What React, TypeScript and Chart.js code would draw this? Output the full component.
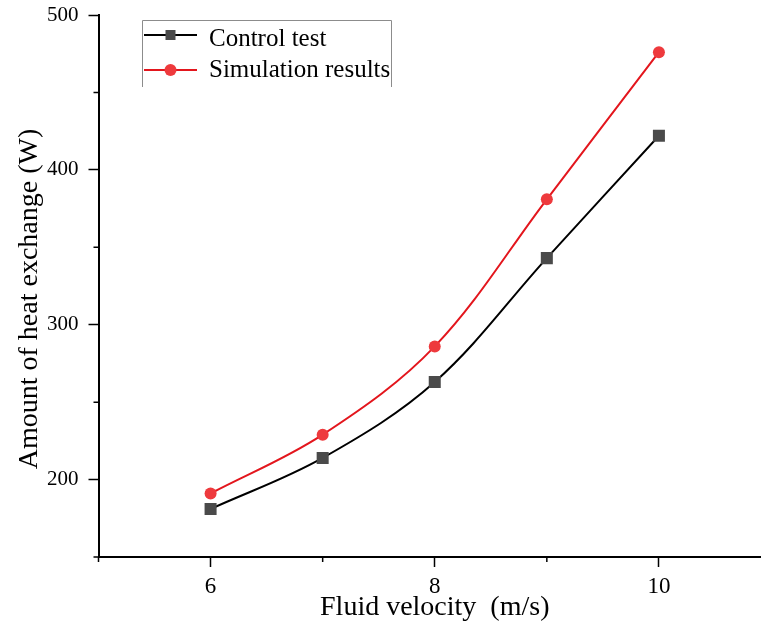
import { useEffect, useRef } from 'react';
import { Chart, registerables } from 'chart.js';

Chart.register(...registerables);

// Fluid velocity (m/s)
const velocities = [6, 7, 8, 9, 10];
// Heat exchange (W)
const controlTest = [181, 214, 263, 343, 422];
const simulationResults = [191, 229, 286, 381, 476];

const xLabeledTicks = [6, 8, 10];
const xMinorTicks = [5, 7, 9, 11];
const yLabeledTicks = [200, 300, 400, 500];
const yMinorTicks = [150, 250, 350, 450];

const yTitle = 'Amount of heat exchange (W)';
const xTitle = 'Fluid velocity  (m/s)';

const FONT = '"Liberation Serif", "Times New Roman", serif';

const minorTickPlugin = {
  id: 'minorTicks',
  afterDraw(chart: any) {
    const { ctx, chartArea } = chart;
    const xs = chart.scales.x;
    const ys = chart.scales.y;
    ctx.save();
    ctx.strokeStyle = '#000';
    ctx.lineWidth = 1.5;
    ctx.beginPath();
    for (const v of xMinorTicks) {
      const px = xs.getPixelForValue(v);
      ctx.moveTo(px, chartArea.bottom);
      ctx.lineTo(px, chartArea.bottom + 5);
    }
    for (const v of yMinorTicks) {
      const py = ys.getPixelForValue(v);
      ctx.moveTo(chartArea.left, py);
      ctx.lineTo(chartArea.left - 5, py);
    }
    ctx.stroke();
    ctx.restore();
  },
};

// Rotated y-axis title, sitting slightly below the plot's vertical middle
const yTitlePlugin = {
  id: 'yTitle',
  afterDraw(chart: any) {
    const { ctx, chartArea } = chart;
    ctx.save();
    ctx.translate(30, (chartArea.top + chartArea.bottom) / 2 + 13);
    ctx.rotate(-Math.PI / 2);
    ctx.font = `28px ${FONT}`;
    ctx.fillStyle = '#000';
    ctx.textAlign = 'center';
    ctx.textBaseline = 'middle';
    ctx.fillText(yTitle, 0, 0);
    ctx.restore();
  },
};

const boxLegendPlugin = {
  id: 'boxLegend',
  afterDraw(chart: any) {
    const { ctx } = chart;
    const box = { left: 142, top: 20, right: 391, bottom: 87 };
    ctx.save();
    ctx.strokeStyle = '#8c8c8c';
    ctx.lineWidth = 1;
    ctx.beginPath();
    ctx.moveTo(box.left + 0.5, box.bottom);
    ctx.lineTo(box.left + 0.5, box.top + 0.5);
    ctx.lineTo(box.right + 0.5, box.top + 0.5);
    ctx.lineTo(box.right + 0.5, box.bottom);
    ctx.stroke();

    const rows = [
      { markerY: 35, textY: 46 },
      { markerY: 70, textY: 77 },
    ];
    chart.data.datasets.forEach((ds: any, i: number) => {
      const r = rows[i];
      ctx.strokeStyle = ds.borderColor;
      ctx.lineWidth = 2;
      ctx.beginPath();
      ctx.moveTo(144, r.markerY);
      ctx.lineTo(197, r.markerY);
      ctx.stroke();
      ctx.fillStyle = ds.pointBackgroundColor;
      if (ds.pointStyle === 'rect') {
        ctx.fillRect(165.5, r.markerY - 5, 10, 10);
      } else {
        ctx.beginPath();
        ctx.arc(170.5, r.markerY, 6, 0, Math.PI * 2);
        ctx.fill();
      }
      ctx.fillStyle = '#000';
      ctx.font = `25px ${FONT}`;
      ctx.textBaseline = 'alphabetic';
      ctx.textAlign = 'left';
      ctx.fillText(ds.label, 209, r.textY);
    });
    ctx.restore();
  },
};

export default function App() {
  const canvasRef = useRef<HTMLCanvasElement | null>(null);

  useEffect(() => {
    const canvas = canvasRef.current;
    if (!canvas) return;
    const chart = new Chart(canvas, {
      type: 'line',
      data: {
        datasets: [
          {
            label: 'Control test',
            data: velocities.map((v, i) => ({ x: v, y: controlTest[i] })),
            borderColor: '#000000',
            borderWidth: 2,
            pointStyle: 'rect',
            pointRadius: 8.5,
            pointBackgroundColor: '#4a4a4a',
            pointBorderWidth: 0,
            tension: 0.35,
          },
          {
            label: 'Simulation results',
            data: velocities.map((v, i) => ({ x: v, y: simulationResults[i] })),
            borderColor: '#e3161d',
            borderWidth: 2,
            pointStyle: 'circle',
            pointRadius: 6,
            pointBackgroundColor: '#ee3a3d',
            pointBorderWidth: 0,
            tension: 0.35,
          },
        ],
      },
      options: {
        animation: false,
        responsive: false,
        devicePixelRatio: 1,
        layout: { padding: { left: 0, right: 9, top: 15, bottom: 0 } },
        plugins: {
          legend: { display: false },
          tooltip: { enabled: false },
        },
        scales: {
          x: {
            type: 'linear',
            min: 5,
            max: 11,
            afterFit: (s: any) => {
              s.height = 71;
              s.paddingLeft = 0;
              s.paddingRight = 0;
            },
            afterBuildTicks: (s: any) => {
              s.ticks = [5, 6, 7, 8, 9, 10, 11].map((v) => ({ value: v }));
            },
            border: { display: true, color: '#000', width: 2 },
            grid: {
              display: true,
              drawOnChartArea: false,
              drawTicks: true,
              tickLength: 10,
              tickWidth: 1.5,
              tickColor: (c: any) =>
                xLabeledTicks.includes(c.tick?.value) ? '#000' : 'rgba(0,0,0,0)',
            },
            ticks: {
              color: '#000',
              padding: 6,
              font: { family: FONT, size: 23 },
              callback: (v: any) => (xLabeledTicks.includes(Number(v)) ? String(v) : ''),
            },
            title: {
              display: true,
              text: xTitle,
              color: '#000',
              font: { family: FONT, size: 28 },
              padding: { top: 0, bottom: 4 },
            },
          },
          y: {
            type: 'linear',
            min: 150,
            max: 500,
            afterFit: (s: any) => {
              s.width = 98.5;
              s.paddingTop = 0;
              s.paddingBottom = 0;
            },
            afterBuildTicks: (s: any) => {
              s.ticks = [150, 200, 250, 300, 350, 400, 450, 500].map((v) => ({ value: v }));
            },
            border: { display: true, color: '#000', width: 2 },
            grid: {
              display: true,
              drawOnChartArea: false,
              drawTicks: true,
              tickLength: 10,
              tickWidth: 1.5,
              tickColor: (c: any) =>
                yLabeledTicks.includes(c.tick?.value) ? '#000' : 'rgba(0,0,0,0)',
            },
            ticks: {
              color: '#000',
              padding: 10,
              font: { family: FONT, size: 21 },
              callback: (v: any) => (yLabeledTicks.includes(Number(v)) ? String(v) : ''),
            },
            title: { display: false },
          },
        },
      },
      plugins: [minorTickPlugin, yTitlePlugin, boxLegendPlugin],
    });
    return () => chart.destroy();
  }, []);

  return (
    <div
      style={{
        position: 'fixed',
        left: 0,
        top: 0,
        width: 761,
        height: 628,
        overflow: 'hidden',
        background: '#fff',
      }}
    >
      <canvas ref={canvasRef} width={780} height={628} style={{ display: 'block' }} />
    </div>
  );
}
